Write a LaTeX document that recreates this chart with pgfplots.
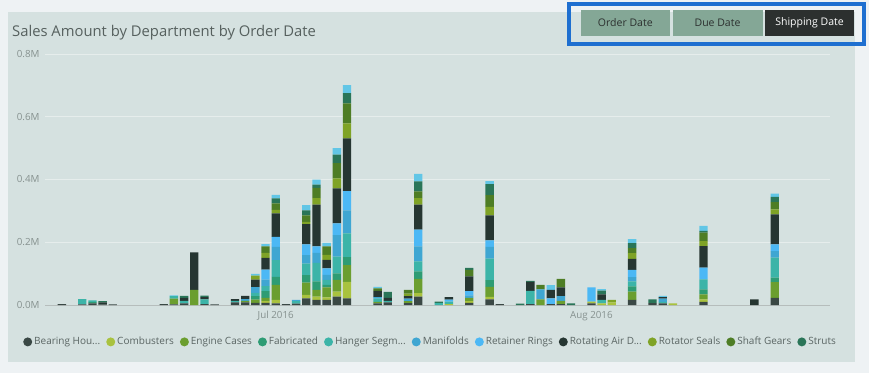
\documentclass[border=0pt]{standalone}
\usepackage{pgfplots}
\pgfplotsset{compat=1.18}
\usepackage{pgfplotstable}
\usepackage{fontspec}
\setmainfont{Open Sans}
\definecolor{outerbg}{HTML}{EEF2F4}
\definecolor{panelbg}{HTML}{D5E1E0}
\definecolor{gridc}{HTML}{E6EDEC}
\definecolor{titlec}{HTML}{56605E}
\definecolor{tickc}{HTML}{86918F}
\definecolor{legc}{HTML}{5A6563}
\definecolor{sage}{HTML}{84A796}
\definecolor{btndark}{HTML}{2C302F}
\definecolor{selblue}{HTML}{1E6FD0}
\definecolor{cB}{HTML}{3A4845}
\definecolor{cC}{HTML}{A9C23F}
\definecolor{cE}{HTML}{6B9E2F}
\definecolor{cF}{HTML}{2E9C74}
\definecolor{cH}{HTML}{3CB4A8}
\definecolor{cM}{HTML}{3FA6D2}
\definecolor{cR}{HTML}{4CB8F5}
\definecolor{cA}{HTML}{263632}
\definecolor{cS}{HTML}{7FA326}
\definecolor{cG}{HTML}{4E7D25}
\definecolor{cT}{HTML}{2A7558}
\definecolor{cO}{HTML}{62C6E6}
\pgfplotstableread{
x B C E F H M R A S G T O
-21 3 0 0 0 0 0 0 0 0 0 0 0
-19 2 0 0 0 17 0 0 0 0 0 0 0
-18 5 0 0 4 6 0 0 0 0 0 0 0
-17 2 0 0 0 0 0 0 6 0 0 4 0
-16 2 0 0 0 0 0 0 0 0 0 0 0
-11 3 0 0 0 0 0 0 0 0 0 0 0
-10 2 0 18 0 8 0 0 0 0 0 0 3
-9 5 0 0 0 8 0 0 10 0 0 6 0
-8 0 0 48 0 0 0 0 120 0 0 0 0
-7 3 0 0 0 15 0 0 7 0 0 5 0
-6 2 0 0 0 0 0 0 0 0 0 0 0
-4 8 0 0 0 5 0 0 6 0 0 0 0
-3 8 0 5 0 0 6 0 10 0 0 0 0
-2 7 0 10 11 11 18 0 24 13 0 0 5
-1 7 5 11 21 16 21 32 37 16 21 0 7
0 5 11 48 26 53 42 32 75 11 21 16 11
1 3 0 0 0 0 0 0 0 0 0 0 0
2 4 0 0 0 8 4 0 0 0 0 0 0
3 21 11 39 24 37 27 34 65 7 21 16 16
4 16 11 21 27 59 32 21 133 21 32 11 16
5 16 8 32 8 16 16 21 27 16 27 0 11
6 27 16 37 21 53 69 37 112 32 48 27 21
7 21 53 53 26 75 74 61 168 48 64 32 26
10 5 0 5 0 10 5 0 20 0 8 0 5
11 8 0 0 0 5 0 0 10 0 0 19 0
13 6 0 6 0 0 8 0 8 8 12 0 0
14 27 11 45 24 32 48 53 80 21 21 32 24
16 0 0 0 0 6 0 0 0 0 0 5 0
17 0 3 0 0 8 0 6 8 0 0 0 0
19 7 5 11 0 0 8 13 47 0 21 6 0
21 18 8 32 21 69 37 21 80 27 37 35 10
22 3 0 0 0 0 0 0 0 0 0 0 0
24 0 0 0 0 0 0 0 0 0 0 4 0
25 3 0 0 0 42 0 0 29 0 0 3 0
26 0 0 18 0 0 32 0 0 0 14 0 0
27 3 0 0 0 0 0 18 27 0 0 0 15
28 3 0 10 0 0 15 0 28 0 27 0 0
29 0 0 0 0 0 0 0 0 0 0 5 0
31 5 6 0 0 0 0 45 0 0 0 0 0
32 0 5 0 0 11 0 0 18 0 0 12 5
33 0 8 0 0 0 0 0 0 8 0 0 0
35 16 0 27 16 16 14 23 35 18 16 16 13
37 6 0 0 0 0 0 0 0 0 0 12 0
38 5 0 0 0 5 10 0 5 0 0 0 4
39 0 5 0 0 0 0 0 0 0 0 0 0
42 10 8 16 16 32 0 37 69 16 27 5 16
47 0 0 0 0 0 0 0 18 0 0 0 0
49 23 0 50 14 64 21 21 96 16 23 17 10
}\salesdata
\begin{document}
\begin{tikzpicture}[x=1pt,y=1pt]
\fill[outerbg] (0pt,0pt) rectangle (869pt,373pt);
\fill[panelbg] (8pt,11pt) rectangle (855pt,361pt);
\node[anchor=base west, text=titlec, inner sep=0pt, font=\fontsize{14.8}{17}\selectfont] at (12pt,336pt) {Sales Amount by Department by Order Date};
% slicer buttons
\draw[selblue, line width=4pt] (569pt,329pt) rectangle (864pt,369pt);
\fill[sage] (580.5pt,337pt) rectangle (670pt,363pt);
\fill[sage] (672.5pt,337pt) rectangle (762.5pt,363pt);
\fill[btndark] (765pt,337pt) rectangle (854pt,363pt);
\node[text=btndark, font=\fontsize{10.5}{12}\selectfont] at (625.3pt,350pt) {Order Date};
\node[text=btndark, font=\fontsize{10.5}{12}\selectfont] at (717.5pt,350pt) {Due Date};
\node[text=white, font=\fontsize{10.5}{12}\selectfont] at (809.5pt,350pt) {Shipping Date};
\begin{axis}[
  at={(45pt,68pt)}, anchor=south west,
  scale only axis, width=785pt, height=251pt,
  xmin=-22.66, xmax=54.43, ymin=0, ymax=800,
  ybar stacked, bar width=0.82,
  axis x line*=bottom, axis y line*=left,
  x axis line style={draw=tickc!60, line width=0.6pt},
  y axis line style={draw=none},
  major tick length=0pt,
  ymajorgrids, grid style={draw=gridc, line width=0.8pt},
  ytick={0,200,400,600,800},
  yticklabels={0.0M,0.2M,0.4M,0.6M,0.8M},
  xtick={0,31}, xticklabels={Jul 2016,Aug 2016},
  /pgf/number format/assume math mode=true,
  tick label style={font=\fontsize{9.8}{11}\selectfont, text=tickc},
  yticklabel style={xshift=-2pt},
  xticklabel style={yshift=-3pt},
  legend columns=-1,
  legend style={at={(-0.028,-0.147)}, anchor=west, draw=none, fill=none, inner sep=0pt,
     font=\fontsize{10}{12}\selectfont, text=legc,
     /tikz/every even column/.append style={column sep=4pt}},
  legend cell align=left,
  legend image code/.code={\fill[#1,draw=none] (4pt,0pt) circle (4.5pt);},
  every axis plot/.append style={draw=none},
]
\addplot[fill=cB] table[x=x,y=B]{\salesdata}; \addlegendentry{Bearing Hou...}
\addplot[fill=cC] table[x=x,y=C]{\salesdata}; \addlegendentry{Combusters}
\addplot[fill=cE] table[x=x,y=E]{\salesdata}; \addlegendentry{Engine Cases}
\addplot[fill=cF] table[x=x,y=F]{\salesdata}; \addlegendentry{Fabricated}
\addplot[fill=cH] table[x=x,y=H]{\salesdata}; \addlegendentry{Hanger Segm...}
\addplot[fill=cM] table[x=x,y=M]{\salesdata}; \addlegendentry{Manifolds}
\addplot[fill=cR] table[x=x,y=R]{\salesdata}; \addlegendentry{Retainer Rings}
\addplot[fill=cA] table[x=x,y=A]{\salesdata}; \addlegendentry{Rotating Air D...}
\addplot[fill=cS] table[x=x,y=S]{\salesdata}; \addlegendentry{Rotator Seals}
\addplot[fill=cG] table[x=x,y=G]{\salesdata}; \addlegendentry{Shaft Gears}
\addplot[fill=cT] table[x=x,y=T]{\salesdata}; \addlegendentry{Struts}
\addplot[fill=cO, forget plot] table[x=x,y=O]{\salesdata};
\end{axis}
\end{tikzpicture}
\end{document}
